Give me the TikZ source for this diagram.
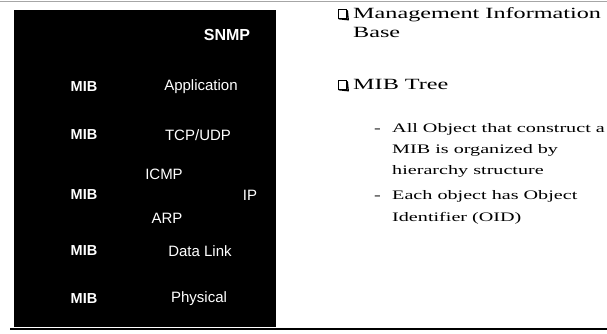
\documentclass[tikz,border=0pt]{standalone}
\usepackage{fontspec}
\setmainfont{Liberation Serif}
\newfontfamily\boxfont{Liberation Sans}
\newfontfamily\wideserif[FakeStretch=1.55]{Liberation Serif}
\begin{document}
\begin{tikzpicture}[x=1pt,y=-1pt,
  boxtxt/.style={font=\boxfont\fontsize{15}{17}\selectfont, text=white, inner sep=0pt},
  mibtxt/.style={font=\boxfont\bfseries\fontsize{14.5}{17}\selectfont, text=white, inner sep=0pt},
  titletxt/.style={font=\boxfont\bfseries\fontsize{16}{18}\selectfont, text=white, inner sep=0pt},
  maintxt/.style={font=\wideserif\fontsize{15.6}{18}\selectfont, anchor=base west, inner sep=0pt},
  subtxt/.style={font=\wideserif\fontsize{13}{15}\selectfont, anchor=base west, inner sep=0pt},
  chk/.style={draw, line width=0.9pt, minimum size=8.5pt, inner sep=0pt, rectangle},
  shadowline/.style={line width=1.4pt}]
\useasboundingbox (0,0) rectangle (607,334);
% rules
\draw[gray!70, line width=1.5pt] (0,1.5) -- (607,1.5);
\draw[line width=1.5pt] (10,329) -- (607,329);
% black panel
\fill[black] (14,10) rectangle (276,327);
% panel labels
\node[titletxt] (snmp) at (227,35) {SNMP};
\node[mibtxt] (mib1) at (84,87) {MIB};
\node[boxtxt] (app) at (201,87) {Application};
\node[mibtxt] (mib2) at (84,135) {MIB};
\node[boxtxt] (tcp) at (198,135) {TCP/UDP};
\node[boxtxt] (icmp) at (164,174) {ICMP};
\node[mibtxt] (mib3) at (84,195) {MIB};
\node[boxtxt] (ip) at (250,195) {IP};
\node[boxtxt] (arp) at (167,218) {ARP};
\node[mibtxt] (mib4) at (84,251) {MIB};
\node[boxtxt] (dl) at (200,251) {Data Link};
\node[mibtxt] (mib5) at (84,299) {MIB};
\node[boxtxt] (phy) at (199,299) {Physical};
% right text
\node[chk] (c1) at (342.5,14) {};
\draw[shadowline] ([xshift=1pt]c1.south west) -- ([xshift=1pt,yshift=-1pt]c1.south east) -- ([yshift=-1pt]c1.north east);
\node[maintxt] (t1) at (353,19) {Management Information};
\node[maintxt] (t2) at (353,38) {Base};
\node[chk] (c2) at (342.5,85) {};
\draw[shadowline] ([xshift=1pt]c2.south west) -- ([xshift=1pt,yshift=-1pt]c2.south east) -- ([yshift=-1pt]c2.north east);
\node[maintxt] (t3) at (353,90) {MIB Tree};
\node[subtxt] (d1) at (374,132) {-};
\node[subtxt] (s1) at (392,132) {All Object that construct a};
\node[subtxt] (s2) at (392,153) {MIB is organized by};
\node[subtxt] (s3) at (392,174) {hierarchy structure};
\node[subtxt] (d2) at (374,199) {-};
\node[subtxt] (s4) at (392,199) {Each object has Object};
\node[subtxt] (s5) at (392,221) {Identifier (OID)};
\end{tikzpicture}
\end{document}
